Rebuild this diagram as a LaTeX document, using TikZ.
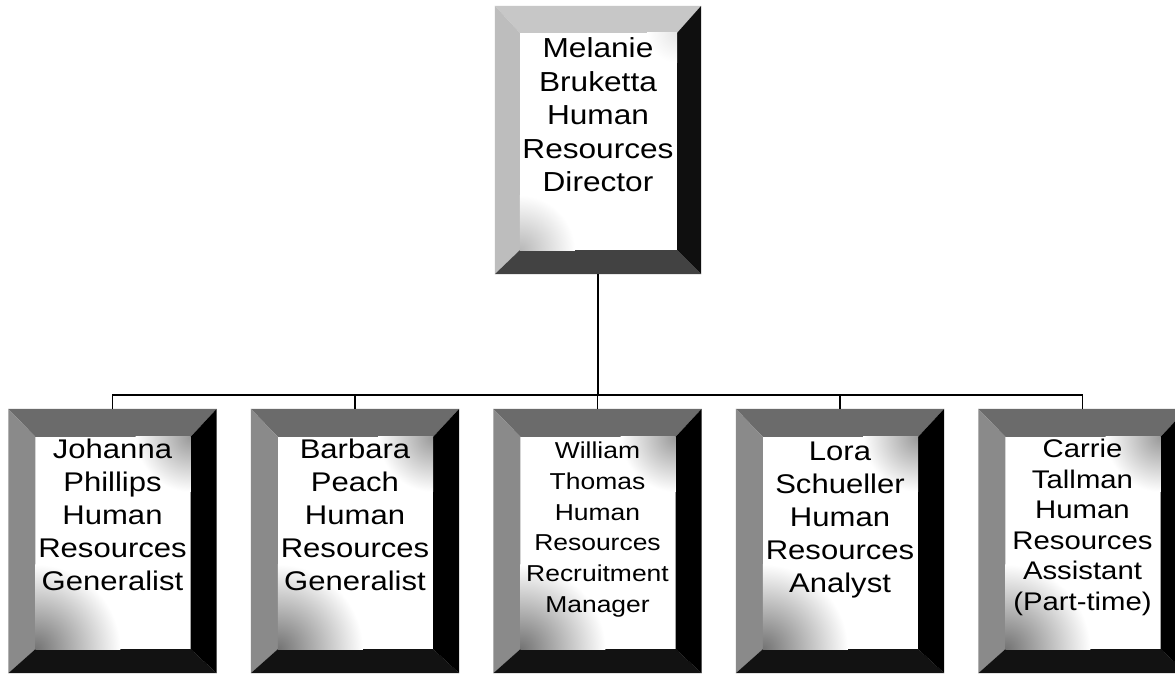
\documentclass[tikz,border=0pt]{standalone}
\usepackage{fontspec}
\setmainfont{Liberation Sans}[FakeStretch=1.15]
\usetikzlibrary{calc}

% Bevelled frame around a named node:
% #1 node, #2..#5 bevel widths (left, top, right, bottom),
% #6..#9 colours (top, left, bottom, right)
\newcommand\bevelframe[9]{%
  \path (#1.north west) coordinate (o1) (#1.north east) coordinate (o2)
        (#1.south east) coordinate (o3) (#1.south west) coordinate (o4);
  \path ($(o1)+(#2,#3)$) coordinate (i1) ($(o2)+(-#4,#3)$) coordinate (i2)
        ($(o3)+(-#4,-#5)$) coordinate (i3) ($(o4)+(#2,-#5)$) coordinate (i4);
  \fill[#6] (o1) -- (o2) -- (i2) -- (i1) -- cycle;
  \fill[#7] (o1) -- (i1) -- (i4) -- (o4) -- cycle;
  \fill[#8] (o4) -- (i4) -- (i3) -- (o3) -- cycle;
  \fill[#9] (o2) -- (o3) -- (i3) -- (i2) -- cycle;
}
% Soft grey haze creeping into the white face from two corners
\newcommand\facehaze[4]{%
  \begin{scope}
    \clip (i1) rectangle (i3);
    \shade[inner color=black!#1, outer color=white] (i4) circle (#2);
    \shade[inner color=black!#3, outer color=white] (i2) circle (#4);
  \end{scope}
}

\tikzset{
  orgbox/.style={rectangle, inner sep=0pt, minimum width=208pt, minimum height=264pt},
  topbox/.style={rectangle, inner sep=0pt, minimum width=206pt, minimum height=268pt},
  orgtext/.style={anchor=north, align=center, inner sep=0pt, text=black},
  link/.style={draw=black, line width=1.8pt}
}

\begin{document}
\begin{tikzpicture}[x=1pt, y=-1pt]
  \useasboundingbox (0,0) rectangle (1175,674);
  \fill[white] (0,0) rectangle (1175,674);

  % boxes
  \node[topbox] (mb) at (598,140) {};
  \node[orgbox] (jp) at (112.5,541) {};
  \node[orgbox] (bp) at (355,541) {};
  \node[orgbox] (wt) at (597.5,541) {};
  \node[orgbox] (ls) at (840,541) {};
  \node[orgbox] (ct) at (1082.5,541) {};

  % director frame
  \bevelframe{mb}{25}{27}{24}{24}{black!22}{black!26}{black!74}{black!94}
  \facehaze{28}{55}{10}{30}

  % staff frames
  \foreach \b in {jp,bp,wt,ls,ct}{
    \bevelframe{\b}{27}{28}{26}{24}{black!58}{black!46}{black!93}{black}
    \facehaze{55}{85}{40}{55}
  }

  % texts
  \node[orgtext, font=\fontsize{27.5}{33.5}\selectfont] (mbt) at (598,37.5)
    {Melanie\\Bruketta\\Human\\Resources\\Director};
  \node[orgtext, font=\fontsize{27}{33}\selectfont] (jpt) at (112.5,439)
    {Johanna\\Phillips\\Human\\Resources\\Generalist};
  \node[orgtext, font=\fontsize{27}{33}\selectfont] (bpt) at (355,439)
    {Barbara\\Peach\\Human\\Resources\\Generalist};
  \node[orgtext, font=\fontsize{23}{30.7}\selectfont] (wtt) at (597.5,442)
    {William\\Thomas\\Human\\Resources\\Recruitment\\Manager};
  \node[orgtext, font=\fontsize{27}{33}\selectfont] (lst) at (840,442)
    {Lora\\Schueller\\Human\\Resources\\Analyst};
  \node[orgtext, font=\fontsize{25.5}{30.5}\selectfont] (ctt) at (1082.5,439)
    {Carrie\\Tallman\\Human\\Resources\\Assistant\\(Part-time)};

  % connectors
  \coordinate (bus) at (598,395);
  \foreach \b in {jp,bp,wt,ls,ct}{
    \draw[link] (mb.south) -- (mb.south |- bus) -| (\b.north);
  }
\end{tikzpicture}
\end{document}
